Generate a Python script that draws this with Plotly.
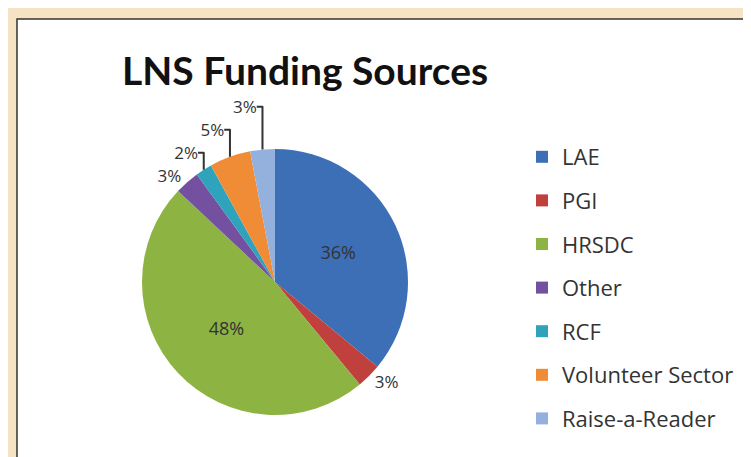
import plotly.graph_objects as go

W, H = 751, 457

categories = ["LAE", "PGI", "HRSDC", "Other", "RCF", "Volunteer Sector", "Raise-a-Reader"]
shares = [36, 3, 48, 3, 2, 5, 3]
colors = ["#3d6fb6", "#c0403e", "#8db443", "#7350a0", "#2fa3bb", "#f08b36", "#93b1dc"]
text_pos = ["inside", "outside", "inside", "outside", "outside", "outside", "outside"]
title_text = "LNS Funding Sources"

def px_x(v):
    return v / W

def px_y(v):
    return 1 - v / H

cx, cy, r = 267, 274, 133

fig = go.Figure()
fig.add_trace(go.Pie(
    labels=categories,
    values=shares,
    sort=False,
    direction="clockwise",
    rotation=0,
    marker=dict(colors=colors, line=dict(width=0)),
    textinfo="percent",
    textposition=text_pos,
    insidetextorientation="horizontal",
    insidetextfont=dict(family="Open Sans", size=18, color="#333333"),
    outsidetextfont=dict(family="Open Sans", size=17, color="#333333"),
    showlegend=False,
    domain=dict(x=[px_x(cx - r), px_x(cx + r)], y=[px_y(cy + r), px_y(cy - r)]),
    hoverinfo="label+percent",
))

for name, col in zip(categories, colors):
    fig.add_trace(go.Scatter(
        x=[None], y=[None], mode="markers", name=name,
        legendgroup=name,
        marker=dict(symbol="square", size=12, color=col),
    ))

fig.add_shape(type="rect", xref="paper", yref="paper",
              x0=px_x(9), x1=1.02, y0=-0.02, y1=px_y(11),
              fillcolor="white", line=dict(color="#333333", width=1.5),
              layer="below")

fig.update_layout(
    width=W, height=H,
    margin=dict(l=0, r=0, t=0, b=0),
    paper_bgcolor="#f5e3c4",
    plot_bgcolor="rgba(0,0,0,0)",
    xaxis=dict(visible=False),
    yaxis=dict(visible=False),
    title=dict(text="<b>" + title_text + "</b>", x=px_x(114), xanchor="left",
               y=px_y(63), yanchor="middle",
               font=dict(family="Lato", size=39, color="#111111")),
    legend=dict(x=px_x(514), xanchor="left", y=px_y(128), yanchor="top",
                traceorder="grouped", tracegroupgap=12,
                font=dict(family="Open Sans", size=22, color="#333333"),
                bgcolor="rgba(0,0,0,0)"),
)

fig.write_html("out.html")
